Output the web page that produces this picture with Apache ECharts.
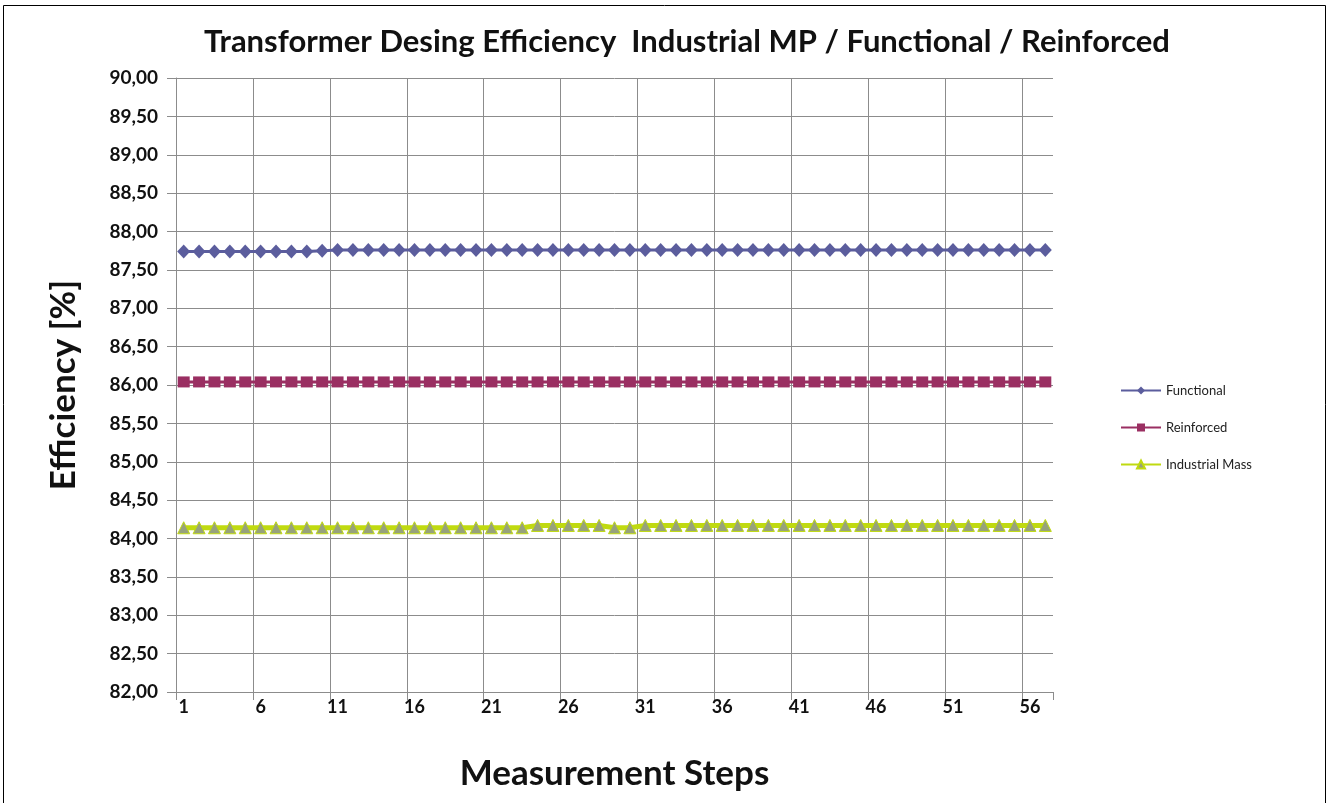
<!DOCTYPE html>
<html>
<head>
<meta charset="utf-8">
<script src="https://cdn.jsdelivr.net/npm/echarts@6/dist/echarts.min.js"></script>
<style>
  html, body { margin: 0; padding: 0; background: #fff; }
  #chart { width: 1329px; height: 803px; }
</style>
</head>
<body>
<div id="chart"></div>
<script>
// Measurement steps 1..57
const steps = [
  1, 2, 3, 4, 5, 6, 7, 8, 9, 10, 11, 12, 13, 14, 15, 16, 17, 18, 19, 20,
  21, 22, 23, 24, 25, 26, 27, 28, 29, 30, 31, 32, 33, 34, 35, 36, 37, 38, 39, 40,
  41, 42, 43, 44, 45, 46, 47, 48, 49, 50, 51, 52, 53, 54, 55, 56, 57
];

// Efficiency [%] per step
const functional = [
  87.74, 87.74, 87.74, 87.74, 87.74, 87.74, 87.74, 87.74, 87.74, 87.75,
  87.76, 87.76, 87.76, 87.76, 87.76, 87.76, 87.76, 87.76, 87.76, 87.76,
  87.76, 87.76, 87.76, 87.76, 87.76, 87.76, 87.76, 87.76, 87.76, 87.76,
  87.76, 87.76, 87.76, 87.76, 87.76, 87.76, 87.76, 87.76, 87.76, 87.76,
  87.76, 87.76, 87.76, 87.76, 87.76, 87.76, 87.76, 87.76, 87.76, 87.76,
  87.76, 87.76, 87.76, 87.76, 87.76, 87.76, 87.76
];
const reinforced = [
  86.04, 86.04, 86.04, 86.04, 86.04, 86.04, 86.04, 86.04, 86.04, 86.04,
  86.04, 86.04, 86.04, 86.04, 86.04, 86.04, 86.04, 86.04, 86.04, 86.04,
  86.04, 86.04, 86.04, 86.04, 86.04, 86.04, 86.04, 86.04, 86.04, 86.04,
  86.04, 86.04, 86.04, 86.04, 86.04, 86.04, 86.04, 86.04, 86.04, 86.04,
  86.04, 86.04, 86.04, 86.04, 86.04, 86.04, 86.04, 86.04, 86.04, 86.04,
  86.04, 86.04, 86.04, 86.04, 86.04, 86.04, 86.04
];
const industrialMass = [
  84.14, 84.14, 84.14, 84.14, 84.14, 84.14, 84.14, 84.14, 84.14, 84.14,
  84.14, 84.14, 84.14, 84.14, 84.14, 84.14, 84.14, 84.14, 84.14, 84.14,
  84.14, 84.14, 84.14, 84.17, 84.17, 84.17, 84.17, 84.17, 84.14, 84.14,
  84.17, 84.17, 84.17, 84.17, 84.17, 84.17, 84.17, 84.17, 84.17, 84.17,
  84.17, 84.17, 84.17, 84.17, 84.17, 84.17, 84.17, 84.17, 84.17, 84.17,
  84.17, 84.17, 84.17, 84.17, 84.17, 84.17, 84.17
];

const FONT = 'Lato, "Open Sans", sans-serif';
const GRID = '#8c8c8c';
// grid lines / ticks every fifth step boundary (before 1, 6, 11, ...)
const everyFifth = idx => idx % 5 === 0;

const chart = echarts.init(document.getElementById('chart'), null, { renderer: 'canvas' });

chart.setOption({
  animation: false,
  backgroundColor: '#ffffff',
  title: {
    text: 'Transformer Desing Efficiency  Industrial MP / Functional / Reinforced',
    left: 682,
    textAlign: 'center',
    top: 21,
    textStyle: { fontFamily: FONT, fontWeight: 'bold', fontSize: 31, color: '#111' }
  },
  graphic: [{
    type: 'rect',
    shape: { x: 3.5, y: 5.5, width: 1322, height: 810 },
    style: { fill: 'none', stroke: '#000', lineWidth: 1 },
    silent: true
  }],
  legend: {
    orient: 'vertical',
    left: 1115,
    top: 379,
    itemWidth: 40,
    itemHeight: 10,
    itemGap: 24,
    textStyle: { fontFamily: FONT, fontSize: 13, color: '#222' },
    data: ['Functional', 'Reinforced', 'Industrial Mass']
  },
  grid: { left: 176, right: 276, top: 78, bottom: 111, containLabel: false },
  xAxis: {
    type: 'category',
    data: steps,
    boundaryGap: true,
    name: 'Measurement Steps',
    nameLocation: 'middle',
    nameGap: 64,
    nameTextStyle: { fontFamily: FONT, fontWeight: 'bold', fontSize: 35, color: '#111' },
    axisLine: { show: true, lineStyle: { color: GRID, width: 1 } },
    axisTick: { show: true, interval: everyFifth, length: 8, lineStyle: { color: GRID } },
    axisLabel: { interval: 4, margin: 6, fontFamily: FONT, fontWeight: 'bold', fontSize: 18, color: '#111' },
    splitLine: { show: true, showMaxLine: false, interval: everyFifth, lineStyle: { color: GRID, width: 1 } }
  },
  yAxis: {
    type: 'value',
    min: 82,
    max: 90,
    interval: 0.5,
    name: 'Efficiency [%]',
    nameLocation: 'middle',
    nameGap: 95,
    nameRotate: 90,
    nameTextStyle: { fontFamily: FONT, fontWeight: 'bold', fontSize: 35, color: '#111' },
    axisLine: { show: true, lineStyle: { color: GRID, width: 1 } },
    axisTick: { show: true, length: 9, lineStyle: { color: GRID } },
    axisLabel: {
      margin: 18,
      fontFamily: FONT, fontWeight: 'bold', fontSize: 19, color: '#111',
      formatter: v => v.toFixed(2).replace('.', ',')
    },
    splitLine: { show: true, lineStyle: { color: GRID, width: 1 } }
  },
  series: [
    {
      name: 'Functional',
      type: 'line',
      data: functional,
      showAllSymbol: true,
      symbol: 'diamond',
      symbolSize: [13, 14],
      lineStyle: { color: '#5b5d9d', width: 3 },
      itemStyle: { color: '#5b5d9d' }
    },
    {
      name: 'Reinforced',
      type: 'line',
      data: reinforced,
      showAllSymbol: true,
      symbol: 'rect',
      symbolSize: [12, 11],
      lineStyle: { color: '#9a2f62', width: 3 },
      itemStyle: { color: '#9a2f62' }
    },
    {
      name: 'Industrial Mass',
      type: 'line',
      data: industrialMass,
      showAllSymbol: true,
      symbol: 'triangle',
      symbolSize: [12, 12],
      lineStyle: { color: '#c0da10', width: 5 },
      itemStyle: { color: '#97a27c', borderColor: '#c0da10', borderWidth: 1 }
    }
  ]
});
</script>
</body>
</html>
